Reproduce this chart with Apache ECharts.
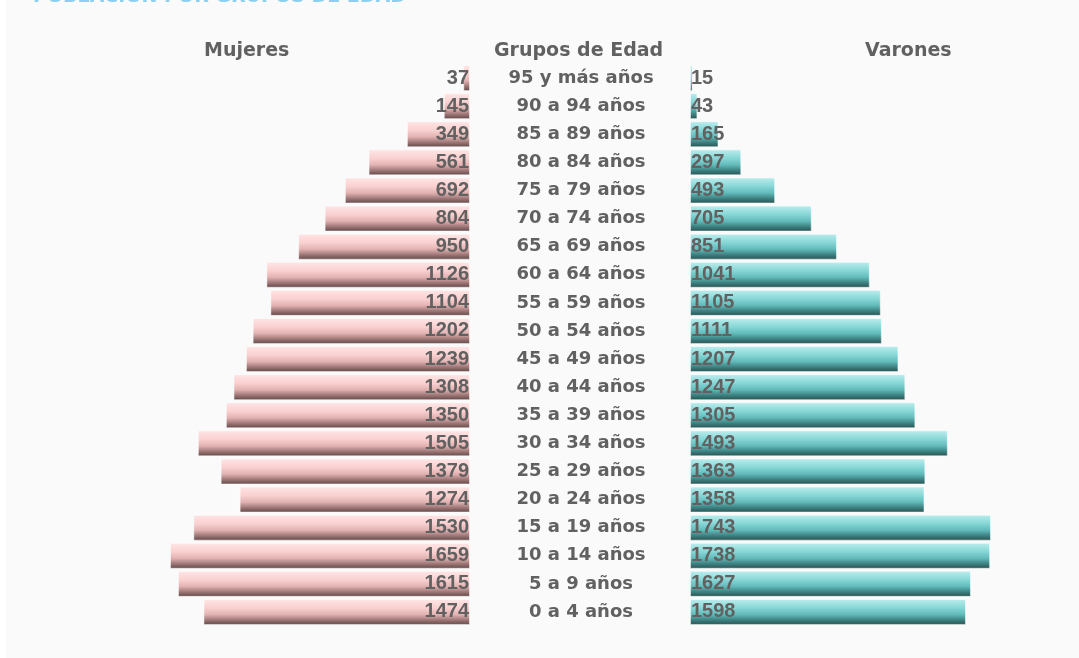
<!DOCTYPE html>
<html>
<head>
<meta charset="utf-8">
<script src="https://cdn.jsdelivr.net/npm/echarts@6/dist/echarts.min.js"></script>
<style>
  html, body { margin: 0; padding: 0; background: #ffffff; }
  #piramide { position: absolute; left: 6px; top: 0; width: 1073px; height: 658px; }
</style>
</head>
<body>
<div id="piramide"></div>
<script>
// grupos de edad, de arriba hacia abajo
const grupos = ['95 y más años', '90 a 94 años', '85 a 89 años', '80 a 84 años', '75 a 79 años',
  '70 a 74 años', '65 a 69 años', '60 a 64 años', '55 a 59 años', '50 a 54 años',
  '45 a 49 años', '40 a 44 años', '35 a 39 años', '30 a 34 años', '25 a 29 años',
  '20 a 24 años', '15 a 19 años', '10 a 14 años', '5 a 9 años', '0 a 4 años'];
const mujeres = [37, 145, 349, 561, 692, 804, 950, 1126, 1104, 1202, 1239, 1308, 1350, 1505, 1379, 1274, 1530, 1659, 1615, 1474];
const varones = [15, 43, 165, 297, 493, 705, 851, 1041, 1105, 1111, 1207, 1247, 1305, 1493, 1363, 1358, 1743, 1738, 1627, 1598];

const txt = '#616161';
const font = '"DejaVu Sans", Verdana, sans-serif';
const numFont = '"Liberation Sans", Arial, sans-serif';

let chart = echarts.init(document.getElementById('piramide'));

function degradado(stops) {
  return new echarts.graphic.LinearGradient(0, 0, 0, 1, stops);
}

chart.setOption({
  backgroundColor: '#fafafa',
  animation: false,
  title: {
    text: 'POBLACIÓN POR GRUPOS DE EDAD',
    left: 22,
    top: -17,
    textStyle: { color: '#8ccfee', fontSize: 19, fontWeight: 'bold', fontFamily: font }
  },
  graphic: [
    { type: 'text', left: 241 - 43, top: 42, style: { text: 'Mujeres', fill: txt, font: 'bold 19px ' + font } },
    { type: 'text', left: 575 - 87, top: 42, style: { text: 'Grupos de Edad', fill: txt, font: 'bold 19px ' + font } },
    { type: 'text', left: 905 - 46, top: 42, style: { text: 'Varones', fill: txt, font: 'bold 19px ' + font } }
  ],
  grid: [
    { left: 164, width: 300, top: 64, height: 562 },
    { left: 684, width: 301, top: 64, height: 562 }
  ],
  xAxis: [
    { gridIndex: 0, type: 'value', inverse: true, min: 0, max: 1659, show: false },
    { gridIndex: 1, type: 'value', min: 0, max: 1743, show: false }
  ],
  yAxis: [
    {
      gridIndex: 0, type: 'category', inverse: true, data: grupos, position: 'right',
      axisLine: { show: false }, axisTick: { show: false }, splitLine: { show: false },
      axisLabel: { align: 'center', margin: 111, color: txt, fontSize: 18, fontWeight: 'bold', fontFamily: font }
    },
    {
      gridIndex: 1, type: 'category', inverse: true, data: grupos, show: false
    }
  ],
  series: [
    {
      name: 'Mujeres',
      type: 'bar',
      xAxisIndex: 0, yAxisIndex: 0,
      data: mujeres,
      barWidth: 26,
      itemStyle: {
        color: degradado([
          { offset: 0, color: '#ffe6e6' },
          { offset: 0.35, color: '#fad0d0' },
          { offset: 0.6, color: '#e2b2b2' },
          { offset: 0.8, color: '#a27a7a' },
          { offset: 1, color: '#5e4545' }
        ]),
        borderColor: 'rgba(255,255,255,0.5)',
        borderWidth: 1
      },
      label: {
        show: true, position: 'insideRight', distance: 1,
        color: txt, fontSize: 20, fontWeight: 'bold', fontFamily: numFont
      }
    },
    {
      name: 'Varones',
      type: 'bar',
      xAxisIndex: 1, yAxisIndex: 1,
      data: varones,
      barWidth: 26,
      itemStyle: {
        color: degradado([
          { offset: 0, color: '#bdeeee' },
          { offset: 0.35, color: '#86d6d6' },
          { offset: 0.6, color: '#62baba' },
          { offset: 0.8, color: '#3f8484' },
          { offset: 1, color: '#274f4f' }
        ]),
        borderColor: 'rgba(255,255,255,0.5)',
        borderWidth: 1
      },
      label: {
        show: true, position: 'insideLeft', distance: 1,
        color: txt, fontSize: 20, fontWeight: 'bold', fontFamily: numFont
      }
    }
  ]
});
</script>
</body>
</html>
